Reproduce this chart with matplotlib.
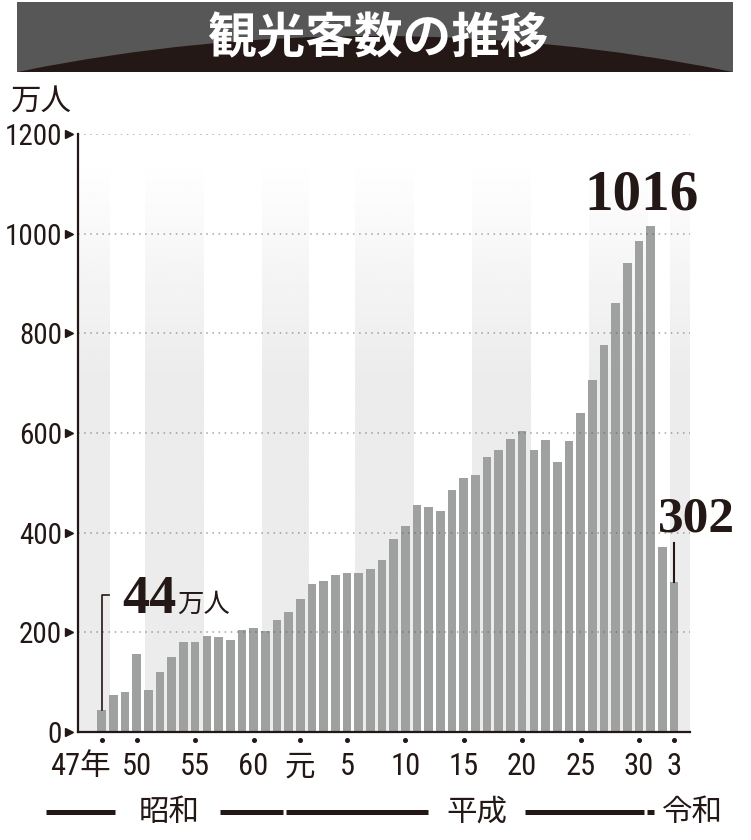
import numpy as np
import matplotlib
matplotlib.use("Agg")
import matplotlib.pyplot as plt
import matplotlib.transforms as mtransforms
from matplotlib import font_manager as fm
from matplotlib.patches import Rectangle, Circle

# 観光客数（万人）昭和47年(1972) ～ 令和3年(2021)
years = list(range(1972, 2022))
visitors = [44, 74, 80, 156, 84, 120, 150, 181, 181, 193,
            190, 185, 205, 208, 203, 225, 240, 267, 297, 303,
            315, 319, 319, 328, 346, 388, 414, 455, 451, 443,
            485, 509, 515, 551, 565, 587, 605, 565, 585, 542,
            584, 641, 706, 777, 861, 941, 986, 1016, 372, 302]
tick_years = [1972, 1975, 1980, 1985, 1989, 1993, 1998, 2003, 2008, 2013, 2018, 2021]
tick_labels = ["47年", "50", "55", "60", "元", "5", "10", "15", "20", "25", "30", "3"]
y_ticks = [0, 200, 400, 600, 800, 1000, 1200]
eras = ["昭和", "平成", "令和"]

INK = "#231815"
BAR = "#9fa0a0"
JP = ["Noto Sans CJK JP", "DejaVu Sans"]
SERIF = ["Liberation Serif", "DejaVu Serif"]

# 細い数字用のフォント（あれば使う）
names = {f.name for f in fm.fontManager.ttflist}
narrow = None
for cand in ["Liberation Sans Narrow", "Roboto Condensed", "DejaVu Sans Condensed",
             "Open Sans Condensed", "Noto Sans Condensed"]:
    if cand in names:
        narrow = cand
        break
if narrow:
    NUM = [narrow, "Noto Sans CJK JP", "DejaVu Sans"]
    num_size = 21
else:
    NUM = ["Noto Sans CJK JP", "DejaVu Sans"]
    num_size = 19

W, H = 751, 840
fig = plt.figure(figsize=(W / 100, H / 100), dpi=100)

# 見出し帯
hx = fig.add_axes([0, 0, 1, 1])
hx.set_xlim(0, W)
hx.set_ylim(H, 0)
hx.axis("off")
hx.patch.set_alpha(0)
band = Rectangle((17, 2), 716, 70, color="#585757", lw=0)
hx.add_patch(band)
arc = Circle((375, 1834), 1798, color=INK, lw=0)
hx.add_patch(arc)
arc.set_clip_path(band)
hx.text(378, 39, "観光客数の推移", color="white", fontsize=35, fontweight="bold",
        family=JP, ha="center", va="center")
hx.text(11, 101, "万人", color=INK, fontsize=22, family=JP, ha="left", va="center")

# グラフ本体
ax = fig.add_axes([78 / W, (H - 732) / H, 612 / W, 598 / H])
x0, x1 = 1969.97, 2022.37

# 背景の縞（上に行くほど白くなる）
gy = np.linspace(0, 1150, 300)
shade = np.where(gy < 700, 0.922, 0.922 + (gy - 700) / 450 * 0.078)[:, None]
gray_bands = [(x0, 1972.7), (1975.7, 1980.7), (1985.7, 1989.7), (1993.7, 1998.7),
              (2003.7, 2008.7), (2013.7, 2018.7), (2020.7, x1)]
for a, b in gray_bands:
    ax.imshow(shade, extent=[a, b, 0, 1150], origin="lower", cmap="gray",
              vmin=0, vmax=1, aspect="auto", interpolation="bilinear", zorder=0)

ax.bar(years, visitors, width=0.74, color=BAR, zorder=2)
for v in y_ticks[1:]:
    ax.axhline(v, color="#5a5a5a", alpha=0.55, lw=1.1, ls=(0, (1, 3)), zorder=3)

ax.set_xlim(x0, x1)
ax.set_ylim(0, 1200)
for s in ["top", "right"]:
    ax.spines[s].set_visible(False)
for s in ["left", "bottom"]:
    ax.spines[s].set_color(INK)
    ax.spines[s].set_linewidth(1.6)
    ax.spines[s].set_zorder(4)

ax.set_yticks(y_ticks)
ax.tick_params(axis="y", length=0, pad=11.5, labelsize=num_size, labelcolor=INK)
for lbl in ax.get_yticklabels():
    lbl.set_fontfamily(NUM)
ax.set_xticks([])

ty = mtransforms.blended_transform_factory(ax.transAxes, ax.transData)
tx = mtransforms.blended_transform_factory(ax.transData, ax.transAxes)
ax.plot([-0.0155] * len(y_ticks), y_ticks, marker=">", ls="none", ms=6,
        color=INK, transform=ty, clip_on=False)

# 年の目盛り
ax.plot(tick_years, [-0.0134] * len(tick_years), "o", ms=2.6, color=INK,
        transform=tx, clip_on=False)
for i, (yr, lab) in enumerate(zip(tick_years, tick_labels)):
    if i == 0:
        ax.text(yr + 0.8, -0.058, lab, transform=tx, ha="right", va="center",
                fontsize=num_size + 1, family=NUM, color=INK)
    else:
        ax.text(yr, -0.058, lab, transform=tx, ha="center", va="center",
                fontsize=num_size + 1, family=NUM, color=INK)

# 元号の帯
ey = -0.134
for a, b in [(1967.23, 1973.14), (1982.1, 1987.5), (1987.8, 1999.9),
             (2008.2, 2018.4), (2018.7, 2019.3)]:
    ax.plot([a, b], [ey, ey], color=INK, lw=3.6, solid_capstyle="butt",
            transform=tx, clip_on=False)
for name, xc in zip(eras, [1977.77, 2004.1, 2022.6]):
    ax.text(xc, ey, name, transform=tx, ha="center", va="center",
            fontsize=22, family=JP, color=INK)

# 注記
peak = max(visitors)
ax.text(years[visitors.index(peak)] - 0.75, peak + 32, str(peak), ha="center",
        va="baseline", fontsize=41, fontweight="bold", family=SERIF, color=INK,
        clip_on=False)
ax.text(years[-1] + 1.9, visitors[-1] + 101, str(visitors[-1]), ha="center",
        va="baseline", fontsize=37, fontweight="bold", family=SERIF, color=INK,
        clip_on=False)
ax.plot([years[-1], years[-1]], [visitors[-1], visitors[-1] + 78], color=INK,
        lw=1.5, zorder=4)
ax.plot([years[0], years[0], years[0] + 0.63], [visitors[0], 275, 275],
        color=INK, lw=1.2, zorder=4)
ax.text(years[0] + 1.74, 239, str(visitors[0]), ha="left", va="baseline",
        fontsize=39, fontweight="bold", family=SERIF, color=INK)
ax.text(years[0] + 6.46, 242, "万人", ha="left", va="baseline",
        fontsize=19, family=JP, color=INK)

fig.savefig("out.png", dpi=100)
